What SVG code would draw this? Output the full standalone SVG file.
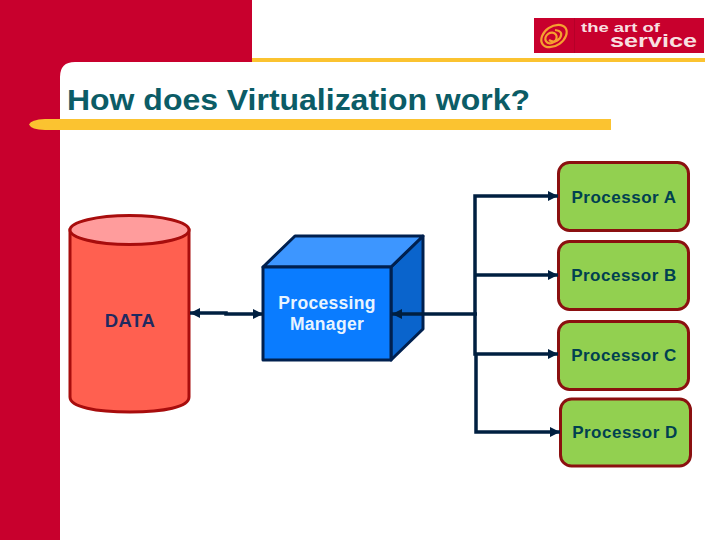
<svg xmlns="http://www.w3.org/2000/svg" width="720" height="540" viewBox="0 0 720 540">
<style>
text{font-family:"Liberation Sans",Arial,sans-serif}
.conn{fill:none;stroke:#001f40;stroke-width:3.500}
.proc rect{fill:#92d050;stroke:#8b1010;stroke-width:3}
.proc text{font-size:17px;font-weight:bold;fill:#004050;text-anchor:middle;letter-spacing:.5px}
.cube{stroke:#00204f;stroke-width:3;stroke-linejoin:round}
</style>
<defs>
<marker id="a" markerUnits="userSpaceOnUse" markerWidth="12" markerHeight="12" refX="10" refY="6" orient="auto-start-reverse"><path d="M0 1L10 6L0 11z" fill="#001f40"/></marker>
</defs>
<rect width="720" height="540" fill="#fff"/>
<g id="background">
<rect x="252" y="58" width="453" height="4" fill="#fbc330"/>
<path d="M0 0H252V62H75Q60 62 60 77V540H0z" fill="#c8002d"/>
<path d="M29 124.500Q31 119.500 45 119H611V130H45Q31 129.500 29 124.500z" fill="#fbc330"/>
<text x="67" y="110" font-size="30" font-weight="bold" fill="#0b5c66" textLength="463" lengthAdjust="spacingAndGlyphs">How does Virtualization work?</text>
</g>
<g id="logo">
<rect x="534" y="18" width="170" height="35" fill="#c8002d"/>
<rect x="574" y="18" width="1" height="35" fill="#b50028"/>
<g fill="none" stroke="#f5a030" stroke-width="2.200">
<ellipse cx="554" cy="36" rx="14" ry="9.500" transform="rotate(-35 554 36)"/>
<ellipse cx="551" cy="38" rx="6" ry="5" transform="rotate(-35 551 38)"/>
<path d="M555 30Q564 31 560 38Q555 44 549 40"/>
</g>
<text x="581" y="31.500" font-size="13" font-weight="bold" fill="#f8dfe0" textLength="79" lengthAdjust="spacingAndGlyphs">the art of</text>
<text x="610" y="46.500" font-size="18" font-weight="bold" fill="#f8dfe0" textLength="87" lengthAdjust="spacingAndGlyphs">service</text>
</g>
<g id="data">
<path d="M70 230V397C70 407 96 412 130 412S189 407 189 397V230z" fill="#ff6050" stroke="#a80d0d" stroke-width="3"/>
<ellipse cx="129.500" cy="230" rx="59.500" ry="14.500" fill="#ff9c9c" stroke="#a80d0d" stroke-width="3"/>
<text x="130" y="327" font-size="18.500" font-weight="bold" fill="#1f2a60" text-anchor="middle" letter-spacing=".5">DATA</text>
</g>
<g id="manager">
<path class="cube" d="M391 267L423 236V329L391 360z" fill="#0a64cc"/>
<path class="cube" d="M263 267L295 236H423L391 267z" fill="#3d96ff"/>
<rect class="cube" x="263" y="267" width="128" height="93" fill="#0a7cff"/>
<text font-size="17.500" font-weight="bold" fill="#e8f4ff" text-anchor="middle" letter-spacing=".3"><tspan x="327" y="309">Processing</tspan><tspan x="327" y="330">Manager</tspan></text>
</g>
<g id="processor-a" class="proc"><rect x="558.500" y="162.500" width="130" height="68" rx="11"/><text x="624" y="203">Processor A</text></g>
<g id="processor-b" class="proc"><rect x="558.500" y="241.500" width="130" height="68" rx="11"/><text x="624" y="281">Processor B</text></g>
<g id="processor-c" class="proc"><rect x="558.500" y="321.500" width="130" height="68" rx="11"/><text x="624" y="361">Processor C</text></g>
<g id="processor-d" class="proc"><rect x="560.500" y="399" width="130" height="67" rx="11"/><text x="625" y="438">Processor D</text></g>
<g id="connectors">
<path class="conn" d="M190 313H226V314H263" marker-start="url(#a)" marker-end="url(#a)"/>
<path class="conn" d="M477 314H392" marker-end="url(#a)"/>
<path class="conn" d="M475 313V196H558" marker-end="url(#a)"/>
<path class="conn" d="M475 275H558" marker-end="url(#a)"/>
<path class="conn" d="M475 313V354H558" marker-end="url(#a)"/>
<path class="conn" d="M476 354V432H560" marker-end="url(#a)"/>
</g>
</svg>
